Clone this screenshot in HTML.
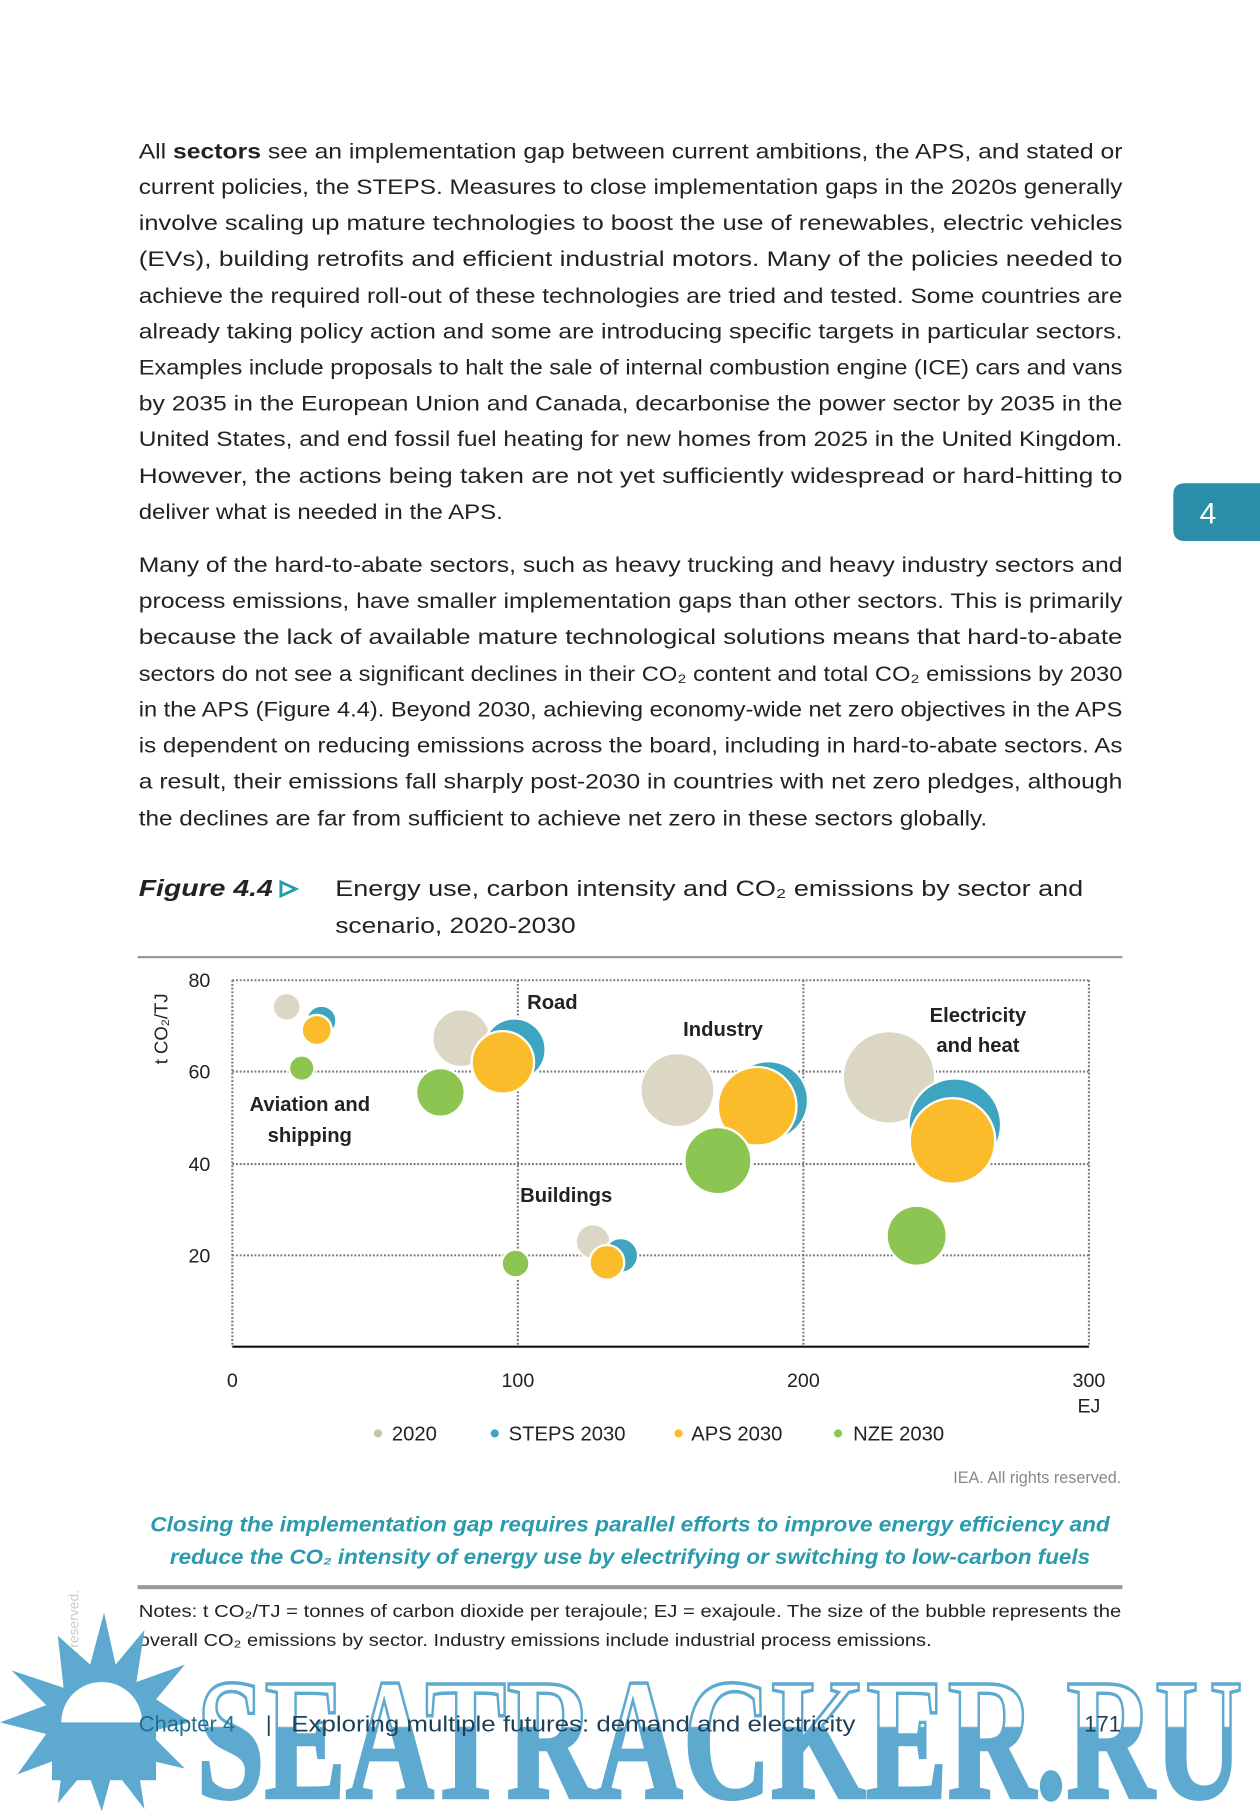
<!DOCTYPE html>
<html><head><meta charset="utf-8"><style>
html,body{margin:0;padding:0;background:#fff;}
svg{display:block;}
.b{font-family:"Liberation Sans",sans-serif;font-size:18.5px;fill:#222;}
.t{font-family:"Liberation Sans",sans-serif;}
</style></head><body>
<svg width="1260" height="1812" viewBox="0 0 1090 1567.5" preserveAspectRatio="none" xmlns="http://www.w3.org/2000/svg">
<defs>
<linearGradient id="wm" x1="0" y1="1445" x2="0" y2="1560" gradientUnits="userSpaceOnUse">
<stop offset="0" stop-color="#ffffff"/><stop offset="0.42" stop-color="#ffffff"/><stop offset="0.43" stop-color="#5ea9cf"/><stop offset="1" stop-color="#5ea9cf"/>
</linearGradient>
</defs>
<rect width="1090" height="1567.5" fill="#fff"/>
<g class="b">
<text x="120" y="137" textLength="851" lengthAdjust="spacingAndGlyphs">All <tspan font-weight="bold">sectors</tspan> see an implementation gap between current ambitions, the APS, and stated or</text>
<text x="120" y="168" textLength="851" lengthAdjust="spacingAndGlyphs">current policies, the STEPS. Measures to close implementation gaps in the 2020s generally</text>
<text x="120" y="199" textLength="851" lengthAdjust="spacingAndGlyphs">involve scaling up mature technologies to boost the use of renewables, electric vehicles</text>
<text x="120" y="230" textLength="851" lengthAdjust="spacingAndGlyphs">(EVs), building retrofits and efficient industrial motors. Many of the policies needed to</text>
<text x="120" y="262" textLength="851" lengthAdjust="spacingAndGlyphs">achieve the required roll-out of these technologies are tried and tested. Some countries are</text>
<text x="120" y="293" textLength="851" lengthAdjust="spacingAndGlyphs">already taking policy action and some are introducing specific targets in particular sectors.</text>
<text x="120" y="324" textLength="851" lengthAdjust="spacingAndGlyphs">Examples include proposals to halt the sale of internal combustion engine (ICE) cars and vans</text>
<text x="120" y="355" textLength="851" lengthAdjust="spacingAndGlyphs">by 2035 in the European Union and Canada, decarbonise the power sector by 2035 in the</text>
<text x="120" y="386" textLength="851" lengthAdjust="spacingAndGlyphs">United States, and end fossil fuel heating for new homes from 2025 in the United Kingdom.</text>
<text x="120" y="418" textLength="851" lengthAdjust="spacingAndGlyphs">However, the actions being taken are not yet sufficiently widespread or hard-hitting to</text>
<text x="120" y="449" textLength="315" lengthAdjust="spacingAndGlyphs">deliver what is needed in the APS.</text>
<text x="120" y="495" textLength="851" lengthAdjust="spacingAndGlyphs">Many of the hard-to-abate sectors, such as heavy trucking and heavy industry sectors and</text>
<text x="120" y="526" textLength="851" lengthAdjust="spacingAndGlyphs">process emissions, have smaller implementation gaps than other sectors. This is primarily</text>
<text x="120" y="557" textLength="851" lengthAdjust="spacingAndGlyphs">because the lack of available mature technological solutions means that hard-to-abate</text>
<text x="120" y="589" textLength="851" lengthAdjust="spacingAndGlyphs">sectors do not see a significant declines in their CO₂ content and total CO₂ emissions by 2030</text>
<text x="120" y="620" textLength="851" lengthAdjust="spacingAndGlyphs">in the APS (Figure 4.4). Beyond 2030, achieving economy-wide net zero objectives in the APS</text>
<text x="120" y="651" textLength="851" lengthAdjust="spacingAndGlyphs">is dependent on reducing emissions across the board, including in hard-to-abate sectors. As</text>
<text x="120" y="682" textLength="851" lengthAdjust="spacingAndGlyphs">a result, their emissions fall sharply post-2030 in countries with net zero pledges, although</text>
<text x="120" y="714" textLength="734" lengthAdjust="spacingAndGlyphs">the declines are far from sufficient to achieve net zero in these sectors globally.</text>
</g>
<path d="M1025 418 H1090 V468 H1025 Q1015 468 1015 458 V428 Q1015 418 1025 418Z" fill="#2a8ea8"/>
<text x="1045" y="453" class="t" font-size="26" fill="#fff" text-anchor="middle">4</text>

<text x="120" y="775" class="t" font-size="20" font-weight="bold" font-style="italic" fill="#222" textLength="116" lengthAdjust="spacingAndGlyphs">Figure 4.4</text>
<path d="M243 763 L256 769 L243 775Z" fill="none" stroke="#2a9bad" stroke-width="2.5"/>
<text x="290" y="775" class="t" font-size="19.5" fill="#222" textLength="647" lengthAdjust="spacingAndGlyphs">Energy use, carbon intensity and CO₂ emissions by sector and</text>
<text x="290" y="807" class="t" font-size="19.5" fill="#222" textLength="208" lengthAdjust="spacingAndGlyphs">scenario, 2020-2030</text>
<line x1="119" y1="828" x2="971" y2="828" stroke="#999" stroke-width="2"/>

<g stroke="#777" stroke-width="1.8" stroke-dasharray="1.6 1.6" fill="none">
<line x1="201" y1="848" x2="942" y2="848"/><line x1="201" y1="927" x2="942" y2="927"/>
<line x1="201" y1="1007" x2="942" y2="1007"/><line x1="201" y1="1086" x2="942" y2="1086"/>
<line x1="201" y1="848" x2="201" y2="1165"/><line x1="448" y1="848" x2="448" y2="1165"/>
<line x1="695" y1="848" x2="695" y2="1165"/><line x1="942" y1="848" x2="942" y2="1165"/>
</g>
<line x1="201" y1="1165" x2="942" y2="1165" stroke="#111" stroke-width="1.8"/>
<g class="t" font-size="17" fill="#222" text-anchor="end">
<text x="182" y="854">80</text><text x="182" y="933">60</text><text x="182" y="1013">40</text><text x="182" y="1092">20</text>
</g>
<g class="t" font-size="17" fill="#222" text-anchor="middle">
<text x="201" y="1200">0</text><text x="448" y="1200">100</text><text x="695" y="1200">200</text><text x="942" y="1200">300</text><text x="942" y="1222">EJ</text>
</g>
<text transform="translate(145,890) rotate(-90)" class="t" font-size="16" fill="#222" text-anchor="middle">t CO₂/TJ</text>

<g stroke="#fff" stroke-width="2">
<circle cx="248" cy="871" r="12" fill="#dcd7c5"/><circle cx="278" cy="883" r="13" fill="#3ea5c1"/><circle cx="274" cy="891" r="13" fill="#fbbc2c"/><circle cx="261" cy="924" r="11" fill="#8dc552"/>
<circle cx="399" cy="898" r="25" fill="#dcd7c5"/><circle cx="445" cy="908" r="27" fill="#3ea5c1"/><circle cx="435" cy="919" r="27" fill="#fbbc2c"/><circle cx="381" cy="945" r="21" fill="#8dc552"/>
<circle cx="586" cy="943" r="32" fill="#dcd7c5"/><circle cx="665" cy="952" r="34" fill="#3ea5c1"/><circle cx="655" cy="957" r="34" fill="#fbbc2c"/><circle cx="621" cy="1004" r="29" fill="#8dc552"/>
<circle cx="769" cy="932" r="40" fill="#dcd7c5"/><circle cx="826" cy="973" r="40" fill="#3ea5c1"/><circle cx="824" cy="987" r="37" fill="#fbbc2c"/><circle cx="793" cy="1069" r="26" fill="#8dc552"/>
<circle cx="513" cy="1074" r="15" fill="#dcd7c5"/><circle cx="537" cy="1086" r="15" fill="#3ea5c1"/><circle cx="525" cy="1092" r="15" fill="#fbbc2c"/><circle cx="446" cy="1093" r="12" fill="#8dc552"/>
</g>
<g class="t" font-size="17.5" font-weight="bold" fill="#222">
<text x="456" y="873">Road</text>
<text x="591" y="896">Industry</text>
<text x="846" y="884" text-anchor="middle">Electricity</text><text x="846" y="910" text-anchor="middle">and heat</text>
<text x="268" y="961" text-anchor="middle">Aviation and</text><text x="268" y="988" text-anchor="middle">shipping</text>
<text x="450" y="1040">Buildings</text>
</g>
<g class="t" font-size="17.5" fill="#222">
<circle cx="327" cy="1240" r="3.5" fill="#c8c2a8"/><text x="339" y="1246">2020</text>
<circle cx="428" cy="1240" r="3.5" fill="#3ea5c1"/><text x="440" y="1246">STEPS 2030</text>
<circle cx="587" cy="1240" r="3.5" fill="#fbbc2c"/><text x="598" y="1246">APS 2030</text>
<circle cx="725" cy="1240" r="3.5" fill="#8dc552"/><text x="738" y="1246">NZE 2030</text>
</g>
<text x="970" y="1283" class="t" font-size="14" fill="#888" text-anchor="end">IEA. All rights reserved.</text>
<g class="t" font-size="18" font-weight="bold" font-style="italic" fill="#2a9bad" text-anchor="middle">
<text x="545" y="1325" textLength="830" lengthAdjust="spacingAndGlyphs">Closing the implementation gap requires parallel efforts to improve energy efficiency and</text>
<text x="545" y="1353" textLength="796" lengthAdjust="spacingAndGlyphs">reduce the CO₂ intensity of energy use by electrifying or switching to low-carbon fuels</text>
</g>
<line x1="119" y1="1373" x2="971" y2="1373" stroke="#999" stroke-width="3.5"/>
<g class="t" font-size="15" fill="#222">
<text x="120" y="1399" textLength="850" lengthAdjust="spacingAndGlyphs">Notes: t CO₂/TJ = tonnes of carbon dioxide per terajoule; EJ = exajoule. The size of the bubble represents the</text>
<text x="120" y="1424" textLength="686" lengthAdjust="spacingAndGlyphs">overall CO₂ emissions by sector. Industry emissions include industrial process emissions.</text>
</g>
<text transform="translate(68,1500) rotate(-90)" class="t" font-size="12" fill="#ccc">IEA. All rights reserved.</text>
<g fill="#5ea9cf">
<polygon points="90,1395 100,1440 125,1410 118,1455 160,1440 135,1470 165,1490 128,1498 160,1530 118,1520 125,1565 98,1530 88,1567 75,1530 50,1560 55,1520 15,1535 40,1500 0,1490 40,1475 10,1445 55,1460 50,1415 78,1440"/>
</g>
<circle cx="88" cy="1490" r="35" fill="#fff"/>
<rect x="45" y="1490" width="90" height="50" fill="#5ea9cf"/>
<text x="170" y="1555" font-family="Liberation Serif,serif" font-weight="bold" font-size="150" fill="url(#wm)" stroke="#5ea9cf" stroke-width="3" textLength="905" lengthAdjust="spacingAndGlyphs">SEATRACKER.RU</text>
<g class="t" font-size="19" fill="#1d3f57">
<text x="120" y="1498" fill="#1f6f8e">Chapter 4</text>
<text x="230" y="1498">|</text>
<text x="252" y="1498" textLength="488" lengthAdjust="spacingAndGlyphs">Exploring multiple futures: demand and electricity</text>
<text x="938" y="1498">171</text>
</g>
</svg>
</body></html>
